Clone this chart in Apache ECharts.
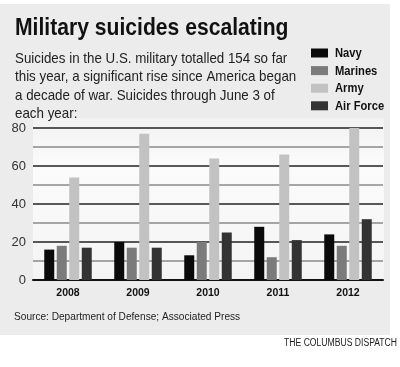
<!DOCTYPE html>
<html><head><meta charset="utf-8">
<script src="https://cdn.jsdelivr.net/npm/echarts@6/dist/echarts.min.js"></script>
<style>html,body{margin:0;padding:0;background:#fff}#c{width:400px;height:367px}</style>
</head><body><div id="c"></div>
<script>
const categories = ['2008','2009','2010','2011','2012'];
const navy = [16, 20, 13, 28, 24];
const marines = [18, 17, 20, 12, 18];
const army = [54, 77, 64, 66, 80];
const airForce = [17, 17, 25, 21, 32];
const seriesNames = ['Navy','Marines','Army','Air Force'];
const seriesColors = ['#0a0a0a','#7b7b7b','#c2c2c2','#333333'];
const yTicks = [0, 20, 40, 60, 80];

const FONT = '"Liberation Sans",Arial,sans-serif';
const chart = echarts.init(document.getElementById('c'), null, {renderer:'canvas'});
const data = [navy, marines, army, airForce];

const legendGraphics = [];
seriesNames.forEach((n, i) => {
  const cy = 53 + i * 17.6;
  legendGraphics.push({type:'rect', shape:{x:311, y:cy-4.5, width:17, height:9}, style:{fill:seriesColors[i]}});
  legendGraphics.push({type:'text', x:335, y:cy+0.5, scaleX:0.83,
    style:{text:n, font:'bold 13.5px '+FONT, fill:'#111', verticalAlign:'middle'}});
});

chart.setOption({
  animation:false,
  backgroundColor:'#ffffff',
  graphic:[
    {type:'rect', z:-10, shape:{x:0,y:4,width:390,height:331}, style:{fill:'#ececec'}},
    {type:'rect', z:-9, shape:{x:33,y:118,width:351,height:162}, style:{fill:new echarts.graphic.LinearGradient(0,0,0,1,[{offset:0,color:'#f2f2f2'},{offset:0.3,color:'#fbfbfb'},{offset:1,color:'#f4f4f4'}])}},
    {type:'text', x:15, y:16, scaleX:0.88, style:{text:'Military suicides escalating', font:'bold 24px '+FONT, fill:'#111', verticalAlign:'top'}},
    {type:'text', x:15, y:49.5, scaleX:0.89, style:{text:'Suicides in the U.S. military totalled 154 so far\nthis year, a significant rise since America began\na decade of war. Suicides through June 3 of\neach year:', font:'15px '+FONT, lineHeight:18.5, fill:'#222', verticalAlign:'top'}},
    {type:'text', x:14, y:316.5, scaleX:0.92, style:{text:'Source: Department of Defense; Associated Press', font:'11px '+FONT, fill:'#222', verticalAlign:'middle'}},
    {type:'text', x:397, y:343.5, scaleX:0.86, style:{text:'THE COLUMBUS DISPATCH', font:'10px '+FONT, fill:'#222', align:'right', verticalAlign:'middle'}}
  ].concat(legendGraphics),
  grid:{left:33, top:128, width:350, height:152, containLabel:false},
  xAxis:{
    type:'category', data:categories,
    axisLine:{lineStyle:{color:'#111', width:2}},
    axisTick:{alignWithLabel:true, length:5, lineStyle:{color:'#111', width:1.5}},
    axisLabel:{fontFamily:FONT, fontWeight:'bold', fontSize:10.5, color:'#111', margin:8}
  },
  yAxis:{
    type:'value', min:0, max:80, interval:10,
    axisLine:{show:false}, axisTick:{show:false},
    axisLabel:{fontFamily:FONT, fontSize:13, color:'#333', margin:7,
      formatter:v => yTicks.indexOf(v) >= 0 ? String(v) : ''},
    splitLine:{lineStyle:{color:['#222','#8a8a8a'], width:1.5}}
  },
  series: seriesNames.map((n,i)=>({
    name:n, type:'bar', data:data[i], barWidth:10, barGap:'25%',
    itemStyle:{color:seriesColors[i]}
  }))
});
</script></body></html>
